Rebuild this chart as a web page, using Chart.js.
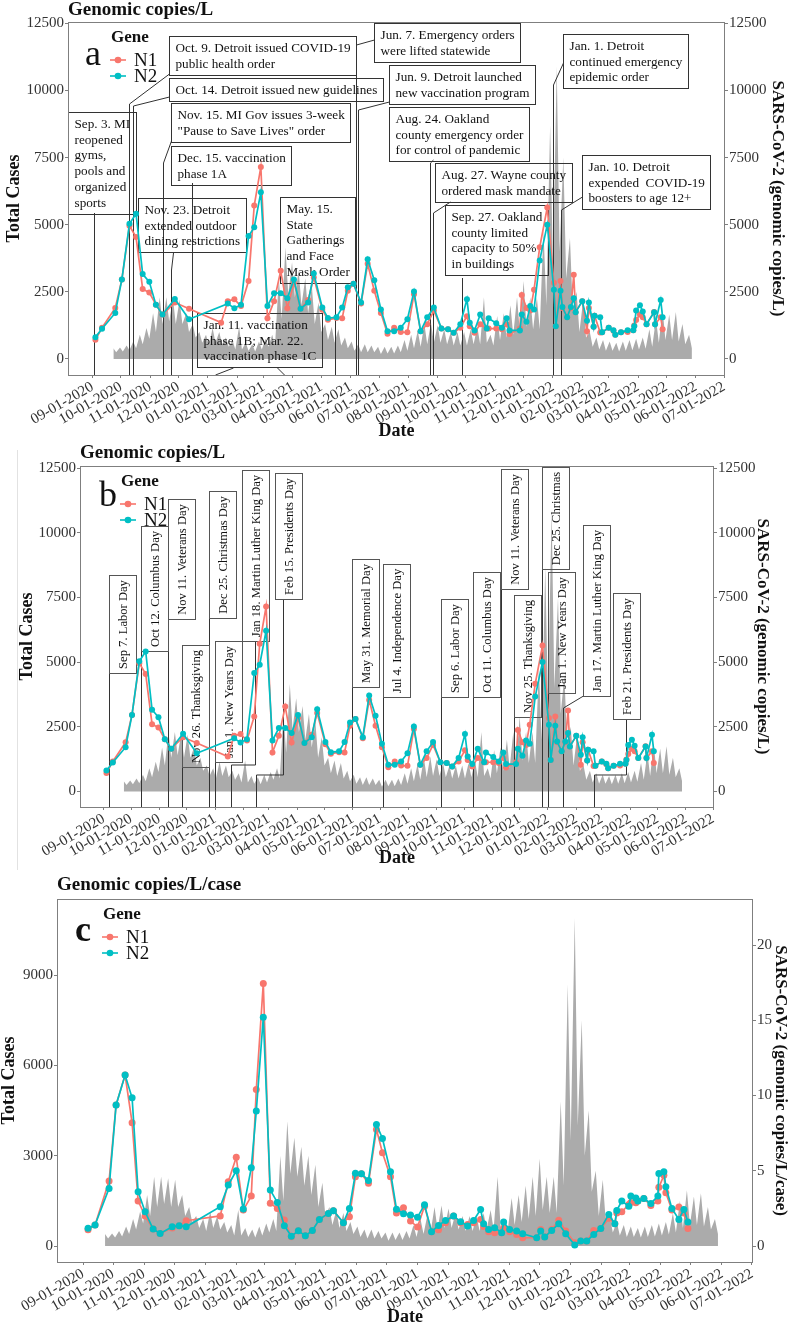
<!DOCTYPE html>
<html>
<head>
<meta charset="utf-8">
<script src="https://cdn.jsdelivr.net/npm/chart.js@4.4.1/dist/chart.umd.min.js"></script>
<style>
  body { margin: 0; background: #fff; width: 790px; height: 1325px; position: relative; overflow: hidden; }
  .panel { position: absolute; left: 0; width: 790px; }
  #edge { position: absolute; left: 17px; top: 450px; width: 1px; height: 420px; background: #e2e2e2; }
</style>
</head>
<body>
<div class="panel" style="top:0;height:447px"><canvas id="chartA"></canvas></div>
<div class="panel" style="top:438px;height:436px"><canvas id="chartB"></canvas></div>
<div class="panel" style="top:874px;height:451px"><canvas id="chartC"></canvas></div>
<div id="edge"></div>
<script>
// ---- axis ticks ----
const monthTicks = ['09-01-2020','10-01-2020','11-01-2020','12-01-2020','01-01-2021','02-01-2021',
  '03-01-2021','04-01-2021','05-01-2021','06-01-2021','07-01-2021','08-01-2021','09-01-2021',
  '10-01-2021','11-01-2021','12-01-2021','01-01-2022','02-01-2022','03-01-2022','04-01-2022',
  '05-01-2022','06-01-2022','07-01-2022'];
const copiesTicks = [0, 2500, 5000, 7500, 10000, 12500];
const casesTicksC = [0, 3000, 6000, 9000];
const perCaseTicksC = [0, 5, 10, 15, 20];

// days are counted from 09-01-2020
const startUTC = Date.UTC(2020, 8, 1);
function dayOf(label) {
  const [m, d, y] = label.split('-').map(Number);
  return (Date.UTC(y, m - 1, d) - startUTC) / 864e5;
}
const tickDays = monthTicks.map(dayOf);

// ---- daily cases (grey), read weekly: peak and low of each week ----
const caseFirstDay = 22;
const caseWeeklyPeak = [400,420,500,650,900,1150,1700,2300,2300,2250,2200,1700,1300,1000,900,1150,1000,800,700,1200,
  600,550,650,750,900,3000,4150,3600,3300,3000,2700,2100,1300,1200,1100,800,650,550,550,500,
  450,450,450,500,700,900,1050,1300,1350,1250,1100,1000,1000,1000,1100,1200,2300,900,1600,1700,
  2000,2300,2900,2300,2300,4800,8700,10900,7500,4500,2500,2200,1000,800,700,650,600,650,700,750,
  800,1100,1500,1850,1650,1750,1300,900];
const caseWeeklyLow = [250,280,320,400,550,750,1000,1300,1400,1300,1300,1000,800,600,500,600,550,450,350,350,
  300,280,350,450,500,1500,2400,2300,2000,1700,1300,1000,700,600,500,400,300,250,250,250,
  180,200,200,250,300,400,450,550,600,600,550,500,500,500,550,550,600,500,700,800,
  900,1000,1200,1100,1100,2000,3500,4000,3000,1800,1000,800,450,350,300,300,280,300,320,350,
  380,450,600,700,700,650,550,400];

// ---- genomic copies/L (panels a and b) ----
const sampleDayAB = [3,10,24,31,39,46,53,60,67,74,87,102,136,143,150,157,165,171,178,185,
  192,199,206,213,220,228,234,243,249,258,264,270,276,284,291,298,305,312,319,326,
  333,340,347,354,361,369,376,382,389,396,399,404,410,417,419,427,433,438,441,452,
  454,459,463,467,473,481,488,490,495,497,502,506,509,511,518,523,525,530,531,537,
  539,546,551,553,559,566,572,573,575,579,582,586,594,595,601,603];
const n1AB = [710,1160,1900,2960,4960,4540,2600,2470,2020,1650,2100,1870,1350,2150,2220,1970,2900,5710,7150,1510,
  2150,3280,1890,2840,1870,2190,3030,1830,1460,1520,1510,2540,2800,2060,3540,2540,1710,940,1160,1000,
  990,2410,1030,1290,1800,1130,1100,970,1160,1590,1220,970,1290,1130,1130,1130,1100,1290,930,1130,
  2380,1900,1800,2580,4160,5640,2840,1220,2900,1900,1550,1900,3130,1740,2150,1030,1900,1200,1610,980,
  990,1160,1050,900,990,1000,1070,1240,1450,1650,1550,1290,1750,1290,1550,1100];
const n2AB = [810,1120,1710,2960,5030,5410,3160,2870,2020,1650,2230,1480,null,2060,1890,2020,4580,4900,6210,1970,
  2450,2450,2260,2960,1870,2100,3180,1910,1520,1550,1910,2670,2800,2100,3710,2930,1840,1030,1030,1160,
  1480,2510,1030,1550,1910,1130,1100,970,1290,2220,1350,1060,1650,1130,1510,1330,1160,1510,1060,1060,
  1650,1380,1970,1840,3670,5000,2580,1220,2540,1930,1550,1930,2260,1740,2150,1420,2100,1200,1610,1550,
  990,1160,1070,900,990,1070,1070,1220,1800,2000,1770,1290,1740,1290,2190,1550];

// ---- genomic copies/L/case (panel c) ----
const sampleDayC = [5,12,26,33,42,49,55,62,70,77,89,96,103,137,145,153,160,168,173,180,
  187,194,201,208,215,222,229,236,245,250,260,266,272,278,285,293,299,307,313,320,
  327,334,341,348,355,362,370,377,384,390,397,400,405,411,418,420,426,433,439,453,
  457,461,468,475,482,491,497,503,510,517,525,531,533,538,545,547,552,554,560,567,
  574,575,580,582,588,595,600,604];
const n1C = [1.08,1.40,4.32,9.37,11.36,8.2,3.0,1.99,1.13,0.84,1.2,1.35,1.68,2.0,4.27,5.9,2.39,3.32,10.4,17.45,
  2.84,2.5,1.73,0.62,1.02,0.68,1.03,1.77,2.17,2.35,1.55,1.95,4.6,4.8,4.17,7.75,6.2,4.6,2.2,2.54,
  1.66,1.26,2.65,0.95,1.08,1.55,2.0,1.55,1.44,1.55,1.77,1.3,0.95,0.88,0.88,1.2,0.95,0.77,0.55,0.55,
  1.1,0.6,1.1,1.72,1.0,0.22,0.33,0.33,1.04,1.17,1.84,1.48,2.2,2.28,2.76,2.9,2.88,3.0,3.16,2.7,
  3.0,3.9,4.7,3.54,2.4,2.6,2.2,1.17];
const n2C = [1.18,1.40,3.83,9.37,11.36,9.85,3.6,2.28,1.13,0.84,1.28,1.35,1.28,2.61,4.05,5.0,2.46,5.2,8.97,15.2,
  3.72,2.9,1.35,0.65,1.02,0.68,1.03,1.77,2.17,2.35,1.55,2.5,4.83,4.8,4.36,8.08,7.15,4.93,2.45,2.15,
  2.06,1.92,2.75,0.95,1.37,1.7,2.0,1.62,1.33,1.7,2.43,1.48,1.1,1.22,0.88,1.59,1.1,1.0,0.82,0.55,
  1.0,0.6,1.04,1.48,0.82,0.07,0.33,0.33,0.77,1.17,2.1,1.48,2.37,2.99,2.65,3.32,3.2,3.0,3.16,2.83,
  3.32,4.82,4.93,3.94,2.5,1.77,2.43,1.6];

// ---- events, panel a (box = top-left [day, value]) ----
const eventsA = [
  { text: ['Sep. 3. MI', 'reopened', 'gyms,', 'pools and', 'organized', 'sports'], box: [-26, 9200], paths: [[[2, -600], [2, 5435]]] },
  { text: ['Oct. 9. Detroit issued COVID-19', 'public health order'], box: [81, 12030], paths: [[[38, -600], [38, 9495], [81, 10613]]] },
  { text: ['Oct. 14. Detroit issued new guidelines'], box: [81, 10464], paths: [[[43, -600], [43, 9421], [81, 9756]]] },
  { text: ['Nov. 15. MI Gov issues 3-week', '"Pause to Save Lives" order'], box: [83, 9533], paths: [[[75, -600], [75, 7298], [83, 8117]]] },
  { text: ['Dec. 15. vaccination', 'phase 1A'], box: [83, 7931], paths: [[[105, -600], [105, 6552]]] },
  { text: ['Nov. 23. Detroit', 'extended outdoor', 'dining restrictions'], box: [48, 5994], paths: [[[83, -600], [83, 3311], [85, 3945]]] },
  { text: ['Jan. 11. vaccination', 'phase 1B; Mar. 22.', 'vaccination phase 1C'], box: [110.5, 1710],
    paths: [[[130, -600], [148.5, -339]], [[202, -600], [195, -339]]] },
  { text: ['May. 15.', 'State', 'Gatherings', 'and Face', 'Mask Order'], box: [198, 6031], paths: [[[256, -600], [256, 2864]]] },
  { text: ['Jun. 7. Emergency orders', 'were lifted statewide'], box: [298, 12513], paths: [[[279, -600], [279, 11693], [298, 11879]]] },
  { text: ['Jun. 9. Detroit launched', 'new vaccination program'], box: [313.6, 10948], paths: [[[281, -600], [281, 9272], [313.6, 9570]]] },
  { text: ['Aug. 24. Oakland', 'county emergency order', 'for control of pandemic'], box: [313.6, 9384], paths: [[[357, -600], [357, 7298], [360, 7409]]] },
  { text: ['Aug. 27. Wayne county', 'ordered mask mandate'], box: [362, 7298], paths: [[[360, -600], [360, 5435], [378, 5845]]] },
  { text: ['Sep. 27. Oakland', 'county limited', 'capacity to 50%', 'in buildings'], box: [372.8, 5733], paths: [[[391, -600], [391, 3013]]] },
  { text: ['Jan. 1. Detroit', 'continued emergency', 'epidemic order'], box: [497.6, 12103], paths: [[[487, -600], [487, 10203], [497.6, 11023]]] },
  { text: ['Jan. 10. Detroit', 'expended  COVID-19', 'boosters to age 12+'], box: [517.7, 7595], paths: [[[496, -600], [496, 5547], [517.7, 6031]]] }
];

// ---- holidays, panel b (box = bottom-left [day, value]) ----
const eventsB = [
  { text: 'Sep 7. Labor Day', box: [6, 4579], paths: [[[6, -600], [6, 4579]]] },
  { text: 'Oct 12. Columbus Day', box: [41, 5430], paths: [[[41, -600], [41, 5430]]] },
  { text: 'Nov 11. Veterans Day', box: [71, 6666], paths: [[[71, -600], [71, 6666]]] },
  { text: 'Nov 26. Thanksgiving', box: [86, 946], paths: [[[86, -600], [86, 946]]] },
  { text: 'Dec 25. Christmas Day', box: [115, 6705], paths: [[[115, -600], [115, 6705]]] },
  { text: 'Jan 1. New Years Day', box: [122, 1139], paths: [[[122, -600], [122, 1139]]] },
  { text: 'Jan 18. Martin Luther King Day', box: [151.6, 5816], paths: [[[139, -600], [139, 1023], [165.8, 1023], [165.8, 5816]]] },
  { text: 'Feb 15. Presidents Day', box: [187.8, 7440], paths: [[[167, -600], [167, 637], [196.5, 637], [196.5, 7440]]] },
  { text: 'May 31. Memorial Day', box: [272, 4038], paths: [[[272, -600], [272, 4038]]] },
  { text: 'Jul 4. Independence Day', box: [306, 3652], paths: [[[306, -600], [306, 3652]]] },
  { text: 'Sep 6. Labor Day', box: [370, 3652], paths: [[[370, -600], [370, 3652]]] },
  { text: 'Oct 11. Columbus Day', box: [405, 3652], paths: [[[405, -600], [405, 3652]]] },
  { text: 'Nov 11. Veterans Day', box: [436, 7826], paths: [[[436, -600], [436, 7826]]] },
  { text: 'Nov 25. Thanksgiving', box: [450, 2879], paths: [[[450, -600], [450, 2879]]] },
  { text: 'Dec 25. Christmas', box: [480, 8599], paths: [[[480, -600], [480, 8599]]] },
  { text: 'Jan 1. New Years Day', box: [487, 3806], paths: [[[487, -600], [487, 3806]]] },
  { text: 'Jan 17. Martin Luther King Day', box: [525.4, 3690], paths: [[[503, -600], [503, 3226], [525.4, 3690]]] },
  { text: 'Feb 21. Presidents Day', box: [558.3, 2801], paths: [[[538, -600], [538, 637], [572.5, 637], [572.5, 2801]]] }
];

const N1_COLOR = '#F8766D';
const N2_COLOR = '#00BFC4';
const CASE_COLOR = '#ababab';
const FRAME = '#7f7f7f';
const TEXT = '#111';
const SERIF = '"Liberation Serif", "DejaVu Serif", serif';
Chart.defaults.font.family = SERIF;

const caseSeries = [];
caseWeeklyPeak.forEach((p, w) => {
  caseSeries.push({ x: caseFirstDay + 7 * w, y: p });
  caseSeries.push({ x: caseFirstDay + 7 * w + 3, y: caseWeeklyLow[w] });
});

const zip = (xs, ys) => xs.map((x, i) => ({ x: x, y: ys[i] }));

// box rectangles in pixels, worked out from the scales
function boxRects(chart, cfg) {
  const ctx = chart.ctx, sx = chart.scales.x, sy = chart.scales.y;
  ctx.save();
  ctx.font = cfg.boxFont + 'px ' + SERIF;
  const rects = (cfg.events || []).map(ev => {
    const bx = Math.round(sx.getPixelForValue(ev.box[0])) + 0.5;
    const by = Math.round(sy.getPixelForValue(ev.box[1])) + 0.5;
    if (cfg.vertical) {
      const h = Math.round(ctx.measureText(ev.text).width + 9);
      return { x: bx, y: by - h, w: 27, h: h, ev: ev };
    }
    const w = Math.round(Math.max(...ev.text.map(t => ctx.measureText(t).width)) + 12);
    const h = Math.round(ev.text.length * 15.8 + 7);
    return { x: bx, y: by, w: w, h: h, ev: ev };
  });
  ctx.restore();
  return rects;
}

function drawBoxFills(chart, cfg) {
  const ctx = chart.ctx;
  ctx.save();
  ctx.fillStyle = '#fff';
  boxRects(chart, cfg).forEach(r => ctx.fillRect(r.x, r.y, r.w, r.h));
  ctx.restore();
}

function drawAnnotations(chart, cfg) {
  const ctx = chart.ctx, sx = chart.scales.x, sy = chart.scales.y;
  ctx.save();
  ctx.strokeStyle = '#333';
  ctx.lineWidth = 1;
  (cfg.events || []).forEach(ev => {
    ev.paths.forEach(path => {
      ctx.beginPath();
      path.forEach(([d, v], i) => {
        const px = Math.round(sx.getPixelForValue(d)) + 0.5, py = sy.getPixelForValue(v);
        if (i === 0) ctx.moveTo(px, py); else ctx.lineTo(px, py);
      });
      ctx.stroke();
    });
  });
  ctx.font = cfg.boxFont + 'px ' + SERIF;
  boxRects(chart, cfg).forEach(r => {
    ctx.strokeStyle = cfg.vertical ? '#555' : '#333';
    ctx.strokeRect(r.x, r.y, r.w, r.h);
    ctx.fillStyle = TEXT;
    ctx.textBaseline = 'middle';
    if (cfg.vertical) {
      ctx.save();
      ctx.translate(r.x + r.w / 2 + 1, r.y + r.h / 2);
      ctx.rotate(-Math.PI / 2);
      ctx.textAlign = 'center';
      ctx.fillText(r.ev.text, 0, 0);
      ctx.restore();
    } else {
      ctx.textAlign = 'left';
      r.ev.text.forEach((t, i) => ctx.fillText(t, r.x + 6, r.y + 4 + 15.8 * (i + 0.5)));
    }
  });
  ctx.restore();
}

function drawDecor(chart, cfg) {
  const ctx = chart.ctx, a = chart.chartArea;
  ctx.save();
  // panel frame
  ctx.strokeStyle = FRAME;
  ctx.lineWidth = 1;
  ctx.strokeRect(Math.round(a.left) + 0.5, Math.round(a.top) + 0.5, Math.round(a.right - a.left) - 1, Math.round(a.bottom - a.top));
  ctx.fillStyle = TEXT;
  // title
  ctx.font = 'bold 19px ' + SERIF;
  ctx.textAlign = 'left';
  ctx.textBaseline = 'middle';
  ctx.fillText(cfg.title, a.left, a.top - cfg.titleGap);
  // x title
  ctx.font = 'bold 18px ' + SERIF;
  ctx.textAlign = 'center';
  ctx.fillText('Date', (a.left + a.right) / 2, a.bottom + cfg.dateGap);
  // left title
  ctx.save();
  ctx.translate(a.left - cfg.leftGap, (a.top + a.bottom) / 2);
  ctx.rotate(-Math.PI / 2);
  ctx.fillText('Total Cases', 0, 0);
  ctx.restore();
  // right title
  ctx.save();
  ctx.font = 'bold 17px ' + SERIF;
  ctx.translate(a.right + cfg.rightGap, (a.top + a.bottom) / 2);
  ctx.rotate(Math.PI / 2);
  ctx.fillText(cfg.rightTitle, 0, 0);
  ctx.restore();
  // panel letter and legend
  const lx = a.left, ly = a.top;
  ctx.font = (cfg.letterBold ? 'bold ' : '') + '36px ' + SERIF;
  ctx.textAlign = 'center';
  ctx.fillText(cfg.letter, lx + cfg.letterX, ly + cfg.letterY);
  ctx.font = 'bold 17px ' + SERIF;
  ctx.textAlign = 'left';
  ctx.fillText('Gene', lx + cfg.legX, ly + 16);
  [['N1', N1_COLOR, 38], ['N2', N2_COLOR, 54]].forEach(([name, col, dy]) => {
    const cy = ly + dy, cx = lx + cfg.legX + 7;
    ctx.strokeStyle = col;
    ctx.lineWidth = 1.6;
    ctx.beginPath(); ctx.moveTo(cx - 8, cy); ctx.lineTo(cx + 8, cy); ctx.stroke();
    ctx.fillStyle = col;
    ctx.beginPath(); ctx.arc(cx, cy, 3.3, 0, Math.PI * 2); ctx.fill();
    ctx.fillStyle = TEXT;
    ctx.font = '19px ' + SERIF;
    ctx.fillText(name, cx + 16, cy + 1);
  });
  ctx.restore();
}

function axisOpts(extra) {
  return Object.assign({
    grid: { display: true, drawOnChartArea: false, drawTicks: true, tickLength: 3, tickColor: FRAME },
    border: { display: false }
  }, extra);
}

function buildPanel(id, cfg) {
  const plugin = {
    id: 'decor' + id,
    beforeDatasetsDraw(chart) { drawBoxFills(chart, cfg); },
    afterDatasetDraw(chart, args) { if (args.index === 2) drawAnnotations(chart, cfg); },
    afterDraw(chart) { drawDecor(chart, cfg); }
  };
  const tickFont = { size: 15 };
  const plain = v => String(v);
  return new Chart(document.getElementById(id), {
    type: 'line',
    data: {
      datasets: [
        { label: 'N2', data: zip(cfg.days, cfg.n2), yAxisID: 'y2', borderColor: N2_COLOR, backgroundColor: N2_COLOR,
          borderWidth: 1.7, pointRadius: cfg.r, pointBorderWidth: 0, spanGaps: true, order: 0 },
        { label: 'N1', data: zip(cfg.days, cfg.n1), yAxisID: 'y2', borderColor: N1_COLOR, backgroundColor: N1_COLOR,
          borderWidth: 1.7, pointRadius: cfg.r, pointBorderWidth: 0, spanGaps: true, order: 1 },
        { label: 'Total Cases', data: caseSeries, yAxisID: 'y', borderWidth: 0, borderColor: CASE_COLOR,
          backgroundColor: CASE_COLOR, pointRadius: 0, fill: 'origin', order: 2 }
      ]
    },
    options: {
      animation: false,
      responsive: true,
      maintainAspectRatio: false,
      layout: { padding: { top: cfg.plotTop, left: 0, right: 0, bottom: 0 } },
      plugins: { legend: { display: false }, tooltip: { enabled: false } },
      scales: {
        x: axisOpts({
          type: 'linear', min: -26, max: 669,
          afterBuildTicks: s => { s.ticks = tickDays.map(v => ({ value: v })); },
          afterFit: s => { s.height = cfg.xAxisH; },
          ticks: { autoSkip: false, minRotation: 30, maxRotation: 30, color: '#333', font: tickFont, padding: 0,
            callback: (v, i) => monthTicks[i] }
        }),
        y: axisOpts({
          position: 'left', min: cfg.yMin, max: cfg.yMax,
          afterBuildTicks: s => { s.ticks = cfg.leftTicks.map(v => ({ value: v })); },
          afterFit: s => { s.width = cfg.plotLeft; },
          ticks: { color: '#333', font: tickFont, padding: 1, callback: plain }
        }),
        y2: axisOpts({
          position: 'right', min: cfg.y2Min, max: cfg.y2Max,
          afterBuildTicks: s => { s.ticks = cfg.rightTicks.map(v => ({ value: v })); },
          afterFit: s => { s.width = 790 - cfg.plotRight; },
          ticks: { color: '#333', font: tickFont, padding: 1, callback: plain }
        })
      }
    },
    plugins: [plugin]
  });
}

buildPanel('chartA', {
  days: sampleDayAB, n1: n1AB, n2: n2AB, r: 3,
  plotTop: 22, plotLeft: 68, plotRight: 725, xAxisH: 72,
  yMin: -600, yMax: 12550, y2Min: -600, y2Max: 12550, leftTicks: copiesTicks, rightTicks: copiesTicks,
  events: eventsA, vertical: false, boxFont: 13.2,
  title: 'Genomic copies/L', titleGap: 12, dateGap: 56, leftGap: 54, rightGap: 52,
  rightTitle: 'SARS-CoV-2 (genomic copies/L)', letter: 'a', letterX: 25, letterY: 34, legX: 43
});

buildPanel('chartB', {
  days: sampleDayAB, n1: n1AB, n2: n2AB, r: 3,
  plotTop: 28, plotLeft: 80, plotRight: 714, xAxisH: 67,
  yMin: -600, yMax: 12580, y2Min: -600, y2Max: 12580, leftTicks: copiesTicks, rightTicks: copiesTicks,
  events: eventsB, vertical: true, boxFont: 12.6,
  title: 'Genomic copies/L', titleGap: 13, dateGap: 51, leftGap: 53, rightGap: 48,
  rightTitle: 'SARS-CoV-2 (genomic copies/L)', letter: 'b', letterX: 28, letterY: 31, legX: 41
});

buildPanel('chartC', {
  days: sampleDayC, n1: n1C, n2: n2C, r: 3.5,
  plotTop: 25, plotLeft: 57, plotRight: 753, xAxisH: 63,
  yMin: -530, yMax: 11530, y2Min: -1.06, y2Max: 23.06, leftTicks: casesTicksC, rightTicks: perCaseTicksC,
  events: [], vertical: false, boxFont: 13,
  title: 'Genomic copies/L/case', titleGap: 14, dateGap: 55, leftGap: 48, rightGap: 27,
  rightTitle: 'SARS-CoV-2 (genomic copies/L/case)', letter: 'c', letterBold: true, letterX: 26, letterY: 33, legX: 46
});
</script>
</body>
</html>
